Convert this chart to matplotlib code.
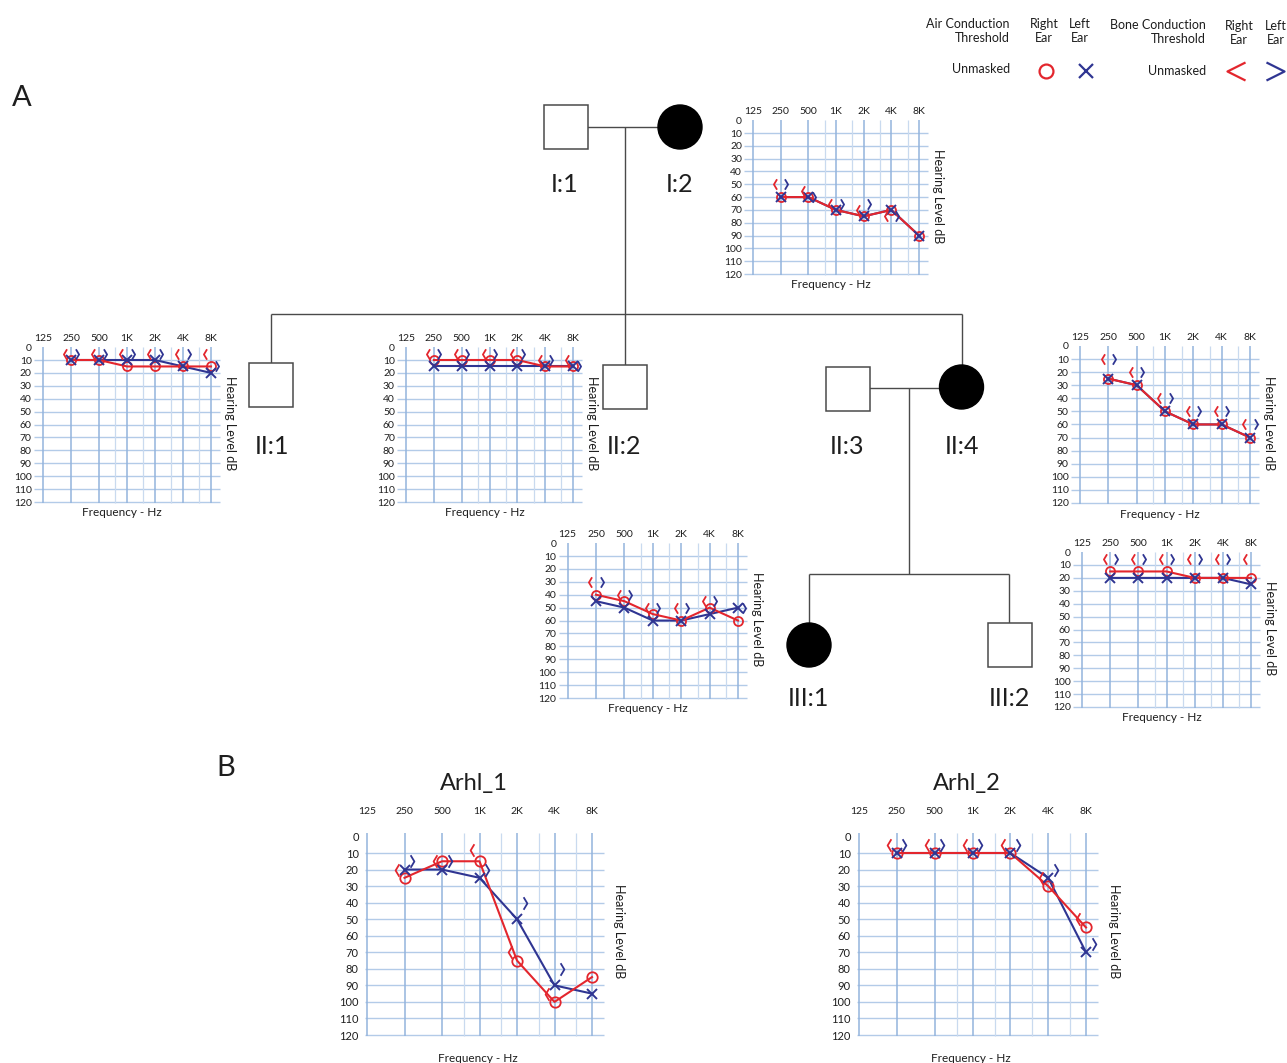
import matplotlib
matplotlib.use('Agg')
import matplotlib.pyplot as plt
import numpy as np
from matplotlib.path import Path
from matplotlib.patches import Rectangle, Circle

plt.rcParams['font.family'] = ['Lato', 'DejaVu Sans']

W, H = 1287, 1063
RED = '#e3262d'
BLUE = '#2f3592'
GRID_MAJ = '#93b4dd'
GRID_MIN = '#c9daef'
GRID_H = '#b3cbe8'
PED = '#4a4a4a'
TXT = '#1e1e1e'

# ---------------- data ----------------
freq_labels = ['125', '250', '500', '1K', '2K', '4K', '8K']
test_freqs = ['250', '500', '1K', '2K', '4K', '8K']
db_ticks = list(range(0, 130, 10))

# I:2
I2_air_right = [60, 60, 70, 75, 70, 90]
I2_air_left = [60, 60, 70, 75, 70, 90]
I2_bone_right = [50, 55, 65, 70, 75, None]
I2_bone_left = [50, 60, 65, 65, 75, None]
# II:1
II1_air_right = [10, 10, 15, 15, 15, 15]
II1_air_left = [10, 10, 10, 10, 15, 20]
II1_bone_right = [5, 5, 5, 5, 5, 5]
II1_bone_left = [5, 5, 5, 5, 5, 15]
# II:2
II2_air_right = [10, 10, 10, 10, 15, 15]
II2_air_left = [15, 15, 15, 15, 15, 15]
II2_bone_right = [5, 5, 5, 5, 10, 10]
II2_bone_left = [5, 5, 5, 5, 10, 15]
# II:4
II4_air_right = [25, 30, 50, 60, 60, 70]
II4_air_left = [25, 30, 50, 60, 60, 70]
II4_bone_right = [10, 20, 40, 50, 50, 60]
II4_bone_left = [10, 20, 40, 50, 50, 60]
# III:1
III1_air_right = [40, 45, 55, 60, 50, 60]
III1_air_left = [45, 50, 60, 60, 55, 50]
III1_bone_right = [30, 40, 50, 50, 45, None]
III1_bone_left = [30, 40, 50, 50, 45, 50]
# III:2
III2_air_right = [15, 15, 15, 20, 20, 20]
III2_air_left = [20, 20, 20, 20, 20, 25]
III2_bone_right = [5, 5, 5, 5, 5, 5]
III2_bone_left = [5, 5, 5, 5, 5, None]
# Arhl_1
A1_air_right = [25, 15, 15, 75, 100, 85]
A1_air_left = [20, 20, 25, 50, 90, 95]
A1_bone_right = [20, 15, 8, 70, 95, None]
A1_bone_left = [15, 15, 20, 40, 80, None]
# Arhl_2
A2_air_right = [10, 10, 10, 10, 30, 55]
A2_air_left = [10, 10, 10, 10, 25, 70]
A2_bone_right = [5, 5, 5, 5, 25, 50]
A2_bone_left = [5, 5, 5, 5, 20, 65]

# ---------------- markers ----------------
LB = Path([(0.3, 1), (-0.3, 0), (0.3, -1)], [Path.MOVETO, Path.LINETO, Path.LINETO])
RB = Path([(-0.3, 1), (0.3, 0), (-0.3, -1)], [Path.MOVETO, Path.LINETO, Path.LINETO])
LBL = Path([(0.5, 0.5), (-0.5, 0), (0.5, -0.5)], [Path.MOVETO, Path.LINETO, Path.LINETO])
RBL = Path([(-0.5, 0.5), (0.5, 0), (-0.5, -0.5)], [Path.MOVETO, Path.LINETO, Path.LINETO])

fig = plt.figure(figsize=(W / 100, H / 100), dpi=100)
fig.patch.set_facecolor('white')

# overlay axes in pixel coordinates
ax0 = fig.add_axes([0, 0, 1, 1])
ax0.set_xlim(0, W)
ax0.set_ylim(H, 0)
ax0.axis('off')


def arr(v):
    return np.array([np.nan if a is None else a for a in v], dtype=float)


def draw_audiogram(frame, air_r, air_l, bone_r, bone_l, big=False, title=None):
    x0, x6, y10, y120 = frame
    dx = (x6 - x0) / 6.0
    dy = (y120 - y10) / 110.0
    xl = (-0.22, 6.45) if big else (-0.4, 6.45)
    yl = (-3.0, 123.0)
    lpx = x0 + xl[0] * dx
    rpx = x0 + xl[1] * dx
    tpx = y10 + (yl[0] - 10) * dy
    bpx = y10 + (yl[1] - 10) * dy
    ax = fig.add_axes([lpx / W, 1 - bpx / H, (rpx - lpx) / W, (bpx - tpx) / H])
    ax.set_xlim(*xl)
    ax.set_ylim(yl[1], yl[0])
    for s in ax.spines.values():
        s.set_visible(False)
    ax.patch.set_alpha(0)

    hx0 = -0.05 if big else -0.32
    ax.hlines(db_ticks[1:], hx0, 6.32, color=GRID_H, lw=1.0, zorder=1)
    ax.vlines(range(len(freq_labels)), -2 if big else 0, 120.5, color=GRID_MAJ, lw=1.1, zorder=1)
    minor = [i + np.log2(1.5) for i in (2, 3, 4, 5)]
    ax.vlines(minor, -2 if big else 0, 120.5, color=GRID_MIN, lw=0.9, zorder=1)

    ax.xaxis.tick_top()
    ax.set_xticks(range(len(freq_labels)), freq_labels, fontsize=7.5, color=TXT)
    ax.tick_params(axis='x', length=0, pad=11 if big else 0.3)
    ax.set_yticks(db_ticks, [str(v) for v in db_ticks], fontsize=8 if big else 7.5, color=TXT)
    ax.tick_params(axis='y', length=0, pad=0)

    xs = np.array([freq_labels.index(f) for f in test_freqs], dtype=float)
    ms = 7.5 if big else 6.5
    bms = 9 if big else 7.5
    ax.plot(xs, arr(air_l), color=BLUE, lw=1.5, zorder=3)
    ax.plot(xs, arr(air_r), color=RED, lw=1.5, zorder=4)
    ax.plot(xs, arr(air_r), ls='none', marker='o', mfc='none', mec=RED, ms=ms, mew=1.3, zorder=5)
    ax.plot(xs, arr(air_l), ls='none', marker='x', color=BLUE, ms=ms, mew=1.4, zorder=6)
    ax.plot(xs - 0.2, arr(bone_r), ls='none', marker=LB, mfc='none', mec=RED, ms=bms, mew=1.3, zorder=6)
    ax.plot(xs + 0.2, arr(bone_l), ls='none', marker=RB, mfc='none', mec=BLUE, ms=bms, mew=1.3, zorder=6)

    if big:
        ax.text(6.73, 57, 'Hearing Level dB', rotation=-90, ha='center', va='center', fontsize=9, color=TXT)
        ax.text(2.95, 134, 'Frequency - Hz', ha='center', va='center', fontsize=8.5, color=TXT)
    else:
        ax.text(6.68, 59, 'Hearing Level dB', rotation=-90, ha='center', va='center', fontsize=9, color=TXT)
        ax.text(2.83, 128.5, 'Frequency - Hz', ha='center', va='center', fontsize=8.5, color=TXT)
    if title:
        ax.text(2.85, -32, title, ha='center', va='center', fontsize=17, color=TXT)
    return ax


draw_audiogram((753, 919, 133, 274), I2_air_right, I2_air_left, I2_bone_right, I2_bone_left)
draw_audiogram((43, 211, 360, 502), II1_air_right, II1_air_left, II1_bone_right, II1_bone_left)
draw_audiogram((406, 573, 360, 502), II2_air_right, II2_air_left, II2_bone_right, II2_bone_left)
draw_audiogram((1080, 1250, 359, 503), II4_air_right, II4_air_left, II4_bone_right, II4_bone_left)
draw_audiogram((567.6, 738, 556, 698), III1_air_right, III1_air_left, III1_bone_right, III1_bone_left)
draw_audiogram((1082, 1251, 565, 707), III2_air_right, III2_air_left, III2_bone_right, III2_bone_left)
draw_audiogram((367, 592, 853, 1035), A1_air_right, A1_air_left, A1_bone_right, A1_bone_left,
               big=True, title='Arhl_1')
draw_audiogram((859, 1086, 853, 1035), A2_air_right, A2_air_left, A2_bone_right, A2_bone_left,
               big=True, title='Arhl_2')

# ---------------- pedigree ----------------
lw = 1.0


def line(xa, ya, xb, yb):
    ax0.plot([xa, xb], [ya, yb], color=PED, lw=lw, solid_capstyle='butt')


def square(cx, cy, s=44):
    ax0.add_patch(Rectangle((cx - s / 2, cy - s / 2), s, s, fc='white', ec=PED, lw=1.1, zorder=3))


def circle(cx, cy, r=22):
    ax0.add_patch(Circle((cx, cy), r, fc='black', ec='black', lw=1, zorder=3))


# generation I
line(587, 127, 658, 127)
line(625, 127, 625, 314)
square(565.5, 127)
circle(680, 127)
# sibship II
line(271, 314, 962, 314)
line(271, 314, 271, 363)
line(625, 314, 625, 365)
line(962, 314, 962, 366)
square(270.5, 385)
square(625, 387)
square(847.5, 389)
circle(961.5, 387)
line(869, 388, 940, 388)
line(909, 388, 909, 574)
# sibship III
line(809, 574, 1009, 574)
line(809, 574, 809, 623)
line(1009, 574, 1009, 623)
circle(809, 645)
square(1009.5, 645)

ped_fs = 18
for lab, (x, y) in {'I:1': (565, 185), 'I:2': (680, 185), 'II:1': (272, 446), 'II:2': (624, 446),
                    'II:3': (847, 446), 'II:4': (962, 446), 'III:1': (808, 699), 'III:2': (1009, 699)}.items():
    ax0.text(x, y, lab, ha='center', va='center', fontsize=ped_fs, color=TXT)

ax0.text(22, 98, 'A', ha='center', va='center', fontsize=21, color=TXT)
ax0.text(226, 768, 'B', ha='center', va='center', fontsize=21, color=TXT)

# ---------------- legend ----------------
lfs = 9
ax0.text(1010, 31, 'Air Conduction\nThreshold', ha='right', va='center', fontsize=lfs, linespacing=1.25, color=TXT)
ax0.text(1044, 31, 'Right\nEar', ha='center', va='center', fontsize=lfs, linespacing=1.25, color=TXT)
ax0.text(1080, 31, 'Left\nEar', ha='center', va='center', fontsize=lfs, linespacing=1.25, color=TXT)
ax0.text(1206, 32, 'Bone Conduction\nThreshold', ha='right', va='center', fontsize=lfs, linespacing=1.25, color=TXT)
ax0.text(1239, 33, 'Right\nEar', ha='center', va='center', fontsize=lfs, linespacing=1.25, color=TXT)
ax0.text(1276, 33, 'Left\nEar', ha='center', va='center', fontsize=lfs, linespacing=1.25, color=TXT)
ax0.text(1010, 69, 'Unmasked', ha='right', va='center', fontsize=lfs, color=TXT)
ax0.text(1206, 71, 'Unmasked', ha='right', va='center', fontsize=lfs, color=TXT)
ax0.plot([1046], [71], ls='none', marker='o', mfc='none', mec=RED, ms=10, mew=1.6)
ax0.plot([1086], [71], ls='none', marker='x', color=BLUE, ms=10, mew=1.6)
ax0.plot([1236], [71], ls='none', marker=LBL, mfc='none', mec=RED, ms=13, mew=1.6)
ax0.plot([1275], [71], ls='none', marker=RBL, mfc='none', mec=BLUE, ms=13, mew=1.6)

fig.savefig('out.png', dpi=100, facecolor='white')
